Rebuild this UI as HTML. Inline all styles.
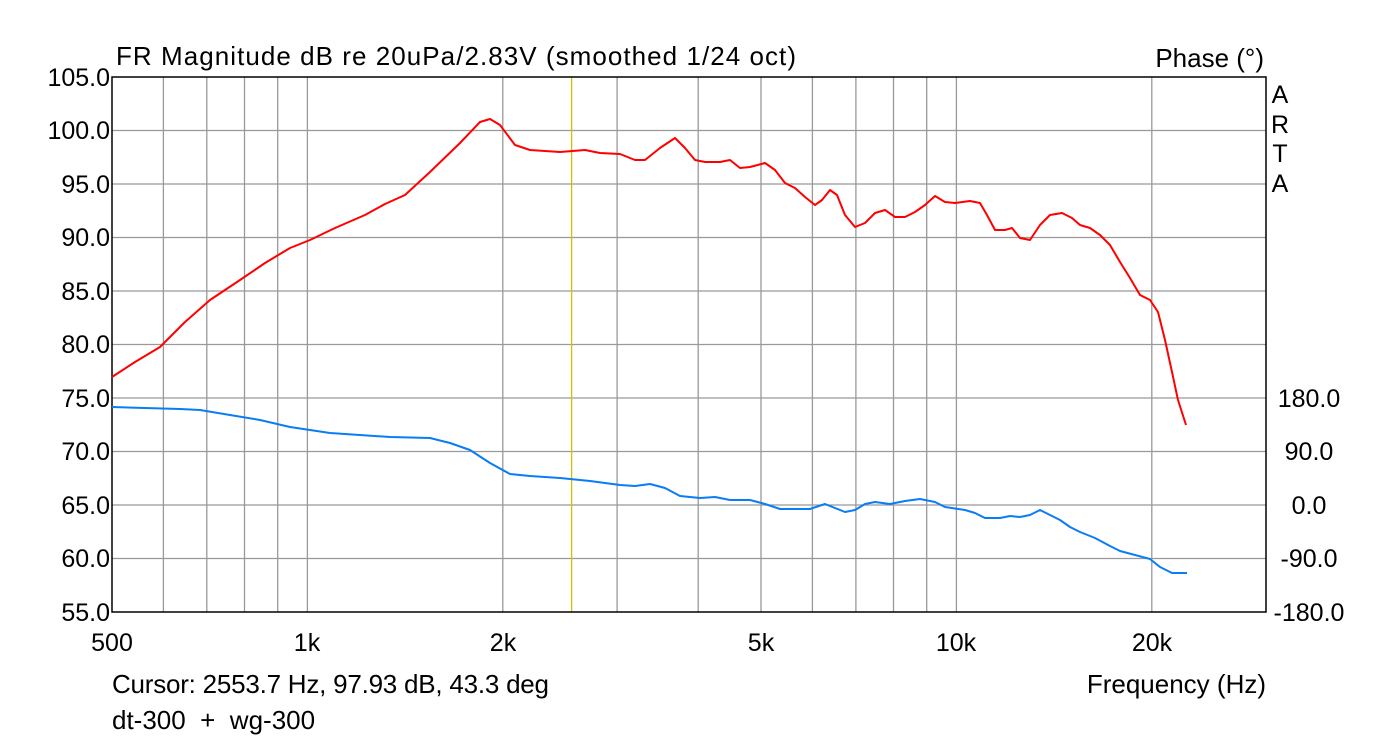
<!DOCTYPE html>
<html><head><meta charset="utf-8"><style>
body{margin:0;background:#fff;}
svg text{font-family:"Liberation Sans",Arial,sans-serif;font-size:25px;fill:#000;}
</style></head><body>
<svg width="1378" height="740" viewBox="0 0 1378 740" xmlns="http://www.w3.org/2000/svg">
<rect width="1378" height="740" fill="#fff"/>
<g stroke="#999" stroke-width="1.3">
<line x1="163.4" y1="77" x2="163.4" y2="612"/><line x1="206.8" y1="77" x2="206.8" y2="612"/>
<line x1="244.5" y1="77" x2="244.5" y2="612"/><line x1="277.7" y1="77" x2="277.7" y2="612"/>
<line x1="307.4" y1="77" x2="307.4" y2="612"/><line x1="502.8" y1="77" x2="502.8" y2="612"/>
<line x1="617.1" y1="77" x2="617.1" y2="612"/><line x1="698.2" y1="77" x2="698.2" y2="612"/>
<line x1="761" y1="77" x2="761" y2="612"/><line x1="812.4" y1="77" x2="812.4" y2="612"/>
<line x1="855.9" y1="77" x2="855.9" y2="612"/><line x1="893.5" y1="77" x2="893.5" y2="612"/>
<line x1="926.7" y1="77" x2="926.7" y2="612"/><line x1="956.4" y1="77" x2="956.4" y2="612"/>
<line x1="1151.8" y1="77" x2="1151.8" y2="612"/>
<line x1="112" y1="130.5" x2="1266" y2="130.5"/><line x1="112" y1="184" x2="1266" y2="184"/>
<line x1="112" y1="237.5" x2="1266" y2="237.5"/><line x1="112" y1="291" x2="1266" y2="291"/>
<line x1="112" y1="344.5" x2="1266" y2="344.5"/><line x1="112" y1="398" x2="1266" y2="398"/>
<line x1="112" y1="451.5" x2="1266" y2="451.5"/><line x1="112" y1="505" x2="1266" y2="505"/>
<line x1="112" y1="558.5" x2="1266" y2="558.5"/>
</g>
<line x1="571.6" y1="77" x2="571.6" y2="612" stroke="#d4c000" stroke-width="1.3"/>
<rect x="112" y="77" width="1154" height="535" fill="none" stroke="#000" stroke-width="1.5"/>
<polyline fill="none" stroke="#ff0000" stroke-width="2" stroke-linejoin="round" points="112,377 135,362 160,347 185,322 210,300 240,280 265,263 290,248 310,240 335,228 365,215 385,204 405,195 430,172 460,143 480,122 490,119 500,125 515,145 530,150 560,152 585,150 600,153 620,154 635,160 645,160 660,148 675,138 685,148 695,160 705,162 720,162 730,160 740,168 750,167 765,163 775,170 785,183 795,188 805,197 815,205 822,200 830,190 837,195 845,215 855,227 865,223 875,213 885,210 895,217 905,217 915,212 925,205 935,196 945,202 955,203 970,201 980,203 987,215 995,230 1005,230 1012,228 1020,238 1030,240 1040,225 1050,215 1062,213 1072,218 1080,225 1090,228 1100,235 1110,245 1120,262 1130,278 1140,295 1150,300 1158,312 1165,340 1172,372 1178,400 1186,425"/>
<polyline fill="none" stroke="#0a7cf5" stroke-width="2" stroke-linejoin="round" points="112,407 180,409 200,410 230,415 260,420 290,427 330,433 390,437 430,438 450,443 470,450 490,463 510,474 530,476 560,478 590,481 620,485 635,486 650,484 665,488 680,496 700,498 715,497 730,500 750,500 765,504 780,509 810,509 825,504 835,508 845,512 855,510 865,504 875,502 890,504 905,501 920,499 935,502 945,507 965,510 975,513 985,518 1000,518 1010,516 1020,517 1030,515 1040,510 1050,515 1060,520 1070,527 1080,532 1095,538 1110,546 1120,551 1135,555 1150,559 1160,567 1172,573 1187,573"/>
<g text-anchor="end">
<text x="110" y="86">105.0</text><text x="110" y="139">100.0</text><text x="110" y="193">95.0</text>
<text x="110" y="246">90.0</text><text x="110" y="300">85.0</text><text x="110" y="353">80.0</text>
<text x="110" y="407">75.0</text><text x="110" y="460">70.0</text><text x="110" y="514">65.0</text>
<text x="110" y="567">60.0</text><text x="110" y="621">55.0</text>
<text x="1264" y="67" style="font-size:26px">Phase (°)</text>
<text x="1266" y="693" style="font-size:26px">Frequency (Hz)</text>
</g>
<g text-anchor="middle">
<text x="1309" y="407">180.0</text><text x="1309" y="460">90.0</text><text x="1309" y="514">0.0</text>
<text x="1309" y="567">-90.0</text><text x="1309" y="621">-180.0</text>
<text x="112" y="651">500</text><text x="307" y="651">1k</text><text x="503" y="651">2k</text>
<text x="761" y="651">5k</text><text x="956" y="651">10k</text><text x="1152" y="651">20k</text>
<g style="font-size:26px"><text x="1280" y="103">A</text><text x="1280" y="133">R</text><text x="1280" y="162">T</text><text x="1280" y="192">A</text></g>
</g>
<text x="116" y="65" style="font-size:26px" textLength="680">FR Magnitude dB re 20uPa/2.83V (smoothed 1/24 oct)</text>
<text x="112" y="693" style="font-size:26px" textLength="437">Cursor: 2553.7 Hz, 97.93 dB, 43.3 deg</text>
<text x="112" y="729" style="font-size:26px;white-space:pre" xml:space="preserve">dt-300  +  wg-300</text>
</svg>
</body></html>
